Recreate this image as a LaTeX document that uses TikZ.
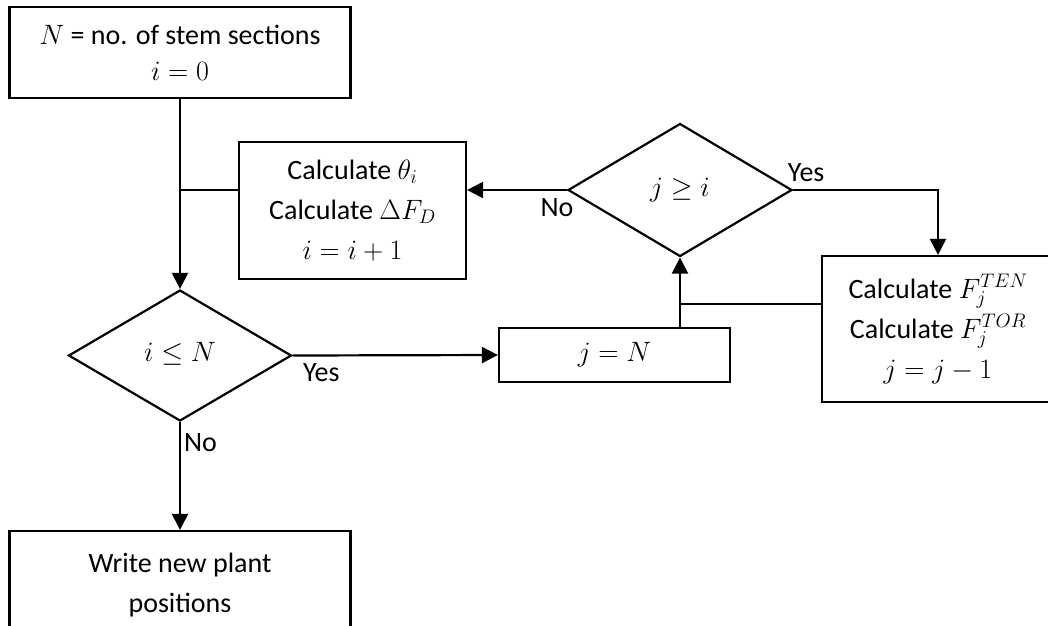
\documentclass[tikz,border=0pt]{standalone}
\usepackage{fix-cm}
\usepackage{fontspec}
\setmainfont{Carlito}
\usetikzlibrary{shapes.geometric,arrows.meta}

\tikzset{
  box/.style={rectangle, draw, line width=2.2pt, align=center, inner sep=0pt},
  decision/.style={diamond, draw, line width=2.2pt, inner sep=0pt},
  flow/.style={line width=2.2pt},
  arr/.style={flow, -{Triangle[length=16pt,width=16pt]}},
  lbl/.style={inner sep=7pt}
}

\begin{document}
\begin{tikzpicture}[x=1pt, y=-1pt, font=\fontsize{28}{40}\selectfont]
  \useasboundingbox (0,0) rectangle (1048,625);
  \clip (0,0) rectangle (1048,625);
  \node[box, minimum width=341pt, minimum height=91pt] (init) at (180,52.5) {$N$ = no. of stem sections\\[-4pt] $i=0$};
  \node[box, minimum width=227pt, minimum height=137pt] (calc) at (352.5,210.5) {Calculate $\theta_i$\\ Calculate $\Delta F_D$\\ $i=i+1$};
  \node[decision, minimum width=224pt, minimum height=133pt] (jgei) at (680,190) {\raisebox{6pt}{$j\geq i$}};
  \node[decision, minimum width=223pt, minimum height=131pt] (ileN) at (180,355.5) {\raisebox{8pt}{$i\leq N$}};
  \node[box, minimum width=231pt, minimum height=54pt] (jN) at (614.5,355) {$j=N$};
  \node[box, minimum width=232pt, minimum height=146pt] (force) at (938,329) {Calculate $F_j^{TEN}$\\ Calculate $F_j^{TOR}$\\ $j=j-1$};
  \node[box, minimum width=341pt, minimum height=108pt] (write) at (180,585) {Write new plant\\ positions};

  \draw[arr] (init.south) -- (ileN.north);
  \draw[flow] (calc.west |- jgei.west) -- (init.south |- jgei.west);
  \draw[arr] (jgei.west) -- node[lbl, pos=0.1, anchor=north] (noJ) {No} (jgei.west -| calc.east);
  \draw[arr] (jgei.east) -| node[lbl, pos=0.045, anchor=south] (yesJ) {Yes} (force.north);
  \draw[arr] (ileN.east) -- node[lbl, pos=0.14, anchor=north] (yesI) {Yes} (jN.west);
  \draw[arr] (jN.north -| jgei.south) -- (jgei.south);
  \draw[flow] ([yshift=25pt]force.west) -- ([yshift=25pt]force.west -| jgei.south);
  \draw[arr] (ileN.south) -- node[lbl, pos=0.19, anchor=west, inner sep=3pt] (noI) {No} (write.north);
\end{tikzpicture}
\end{document}
